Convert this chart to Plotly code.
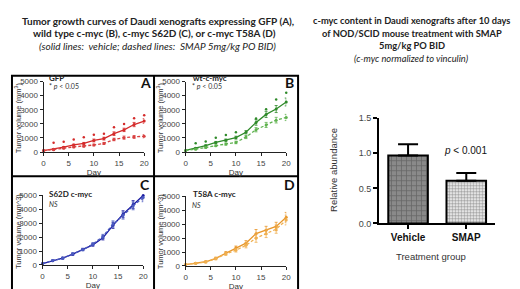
import plotly.graph_objects as go

W, H = 520, 289

days = [0, 2, 4, 6, 8, 10, 12, 14, 16, 18, 20]

gfp_veh = [100, 200, 340, 500, 610, 820, 950, 1300, 1570, 1950, 2200]
gfp_veh_err = [20, 40, 50, 60, 70, 100, 100, 130, 120, 150, 160]
gfp_smap = [100, 160, 270, 360, 410, 500, 610, 890, 1020, 1070, 1120]
gfp_smap_err = [20, 30, 40, 50, 50, 60, 70, 90, 110, 100, 110]
gfp_sig_days = [2, 4, 6, 8, 10, 12, 14, 16, 18, 20]
gfp_sig = [660, 730, 890, 1050, 1230, 1300, 1750, 1980, 2400, 2600]

wt_veh = [110, 270, 450, 680, 840, 1020, 1400, 2100, 2670, 3050, 3550]
wt_veh_err = [20, 40, 60, 70, 80, 100, 120, 200, 220, 250, 280]
wt_smap = [110, 200, 320, 450, 565, 680, 1060, 1580, 1920, 2260, 2450]
wt_smap_err = [20, 40, 50, 60, 80, 90, 110, 150, 180, 200, 220]
wt_sig_days = [2, 4, 6, 8, 10, 14, 16, 18, 20]
wt_sig = [630, 750, 1020, 1200, 1400, 2380, 3030, 3720, 4200]

s62d_veh = [100, 300, 500, 780, 1120, 1450, 1950, 2850, 3650, 4350, 5000]
s62d_veh_err = [20, 40, 60, 70, 80, 100, 150, 220, 250, 280, 320]
s62d_smap = [100, 320, 480, 800, 1100, 1500, 2050, 2950, 3550, 4250, 4850]
s62d_smap_err = [20, 40, 60, 70, 80, 100, 150, 220, 250, 280, 300]

t58a_veh = [100, 200, 300, 550, 930, 1300, 1640, 2320, 2570, 2840, 3500]
t58a_veh_err = [20, 40, 60, 80, 100, 130, 180, 300, 280, 300, 350]
t58a_smap = [100, 190, 280, 520, 860, 1130, 1480, 2000, 2320, 2650, 3300]
t58a_smap_err = [20, 40, 60, 80, 100, 130, 180, 300, 280, 300, 350]

bar_groups = ["Vehicle", "SMAP"]
bar_values = [0.97, 0.61]
bar_err = [0.16, 0.11]

growth_ticks = [0, 1000, 2000, 3000, 4000, 5000]
x_ticks = [0, 5, 10, 15, 20]
bar_ticks = [0.0, 0.5, 1.0, 1.5]

TITLE_FONT = "Lato"
TICK_FONT = "Liberation Sans"

def px_x(p):
    return p / W

def px_y(p):
    return 1 - p / H

fig = go.Figure()

panels = [
    dict(ax="", veh=gfp_veh, ve=gfp_veh_err, sm=gfp_smap, se=gfp_smap_err,
         sd=gfp_sig_days, sv=gfp_sig, col="#d42a2a", col2="#d84040"),
    dict(ax="2", veh=wt_veh, ve=wt_veh_err, sm=wt_smap, se=wt_smap_err,
         sd=wt_sig_days, sv=wt_sig, col="#2f8a2a", col2="#5fb24f"),
    dict(ax="3", veh=s62d_veh, ve=s62d_veh_err, sm=s62d_smap, se=s62d_smap_err,
         sd=None, sv=None, col="#1a1aa0", col2="#4a5ac0"),
    dict(ax="4", veh=t58a_veh, ve=t58a_veh_err, sm=t58a_smap, se=t58a_smap_err,
         sd=None, sv=None, col="#e8962a", col2="#f0b050"),
]

for p in panels:
    xa = "x" + p["ax"]
    ya = "y" + p["ax"]
    fig.add_trace(go.Scatter(
        x=days, y=p["veh"], xaxis=xa, yaxis=ya, mode="lines+markers",
        line=dict(color=p["col"], width=1.3),
        marker=dict(size=3, color=p["col"]),
        error_y=dict(type="data", array=p["ve"], color=p["col"], thickness=0.8, width=1.5),
        cliponaxis=False, showlegend=False))
    fig.add_trace(go.Scatter(
        x=days, y=p["sm"], xaxis=xa, yaxis=ya, mode="lines+markers",
        line=dict(color=p["col2"], width=1.3, dash="3px,2px"),
        marker=dict(size=3, color=p["col2"]),
        error_y=dict(type="data", array=p["se"], color=p["col2"], thickness=0.8, width=1.5),
        cliponaxis=False, showlegend=False))
    if p["sd"] is not None:
        fig.add_trace(go.Scatter(
            x=p["sd"], y=p["sv"], xaxis=xa, yaxis=ya, mode="markers",
            marker=dict(size=2.5, color=p["col"], symbol="circle"),
            cliponaxis=False, showlegend=False))

# bar panel
fig.add_trace(go.Bar(
    x=bar_groups, y=bar_values, xaxis="x5", yaxis="y5", width=0.68,
    marker=dict(
        color=["#8a8a8a", "#ffffff"],
        line=dict(color="black", width=2),
        pattern=dict(shape=["+", "."], fgcolor=["#d8d8d8", "#111111"],
                     bgcolor=["#6e6e6e", "#ffffff"], size=[5, 3], solidity=[0.3, 0.6]),
    ),
    error_y=dict(type="data", symmetric=False, array=bar_err, arrayminus=[0, 0],
                 color="black", thickness=2, width=10),
    showlegend=False))

axis_common = dict(showgrid=False, zeroline=False, showline=True, linecolor="#222",
                   linewidth=1, ticks="outside", ticklen=3, tickwidth=1, tickcolor="#222",
                   tickfont=dict(family=TICK_FONT, size=8, color="#444"))

layout_axes = {}
doms = {
    "": ((34, 136), (144, 71)),
    "2": ((178, 280), (144, 71)),
    "3": ((33, 135), (261, 189)),
    "4": ((178, 280), (262, 190)),
}
for k, ((x0, x1), (y0, y1)) in doms.items():
    layout_axes["xaxis" + k] = dict(axis_common, domain=[px_x(x0), px_x(x1)], range=[0, 20],
                                    tickvals=x_ticks, anchor="y" + k,
                                    title=dict(text="Day", standoff=1,
                                               font=dict(family=TICK_FONT, size=8, color="#333")))
    layout_axes["yaxis" + k] = dict(axis_common, domain=[px_y(y0), px_y(y1)], range=[0, 5000],
                                    tickvals=growth_ticks, anchor="x" + k)

layout_axes["xaxis5"] = dict(showgrid=False, zeroline=False, showline=True, linecolor="black",
                             linewidth=2, ticks="outside", ticklen=4, tickwidth=2, tickcolor="black",
                             domain=[px_x(374), px_x(492)], range=[-0.5, 1.5], anchor="y5",
                             tickvals=bar_groups, ticktext=["<b>" + g + "</b>" for g in bar_groups],
                             tickfont=dict(family=TICK_FONT, size=10, color="#111"))
layout_axes["yaxis5"] = dict(showgrid=False, zeroline=False, showline=True, linecolor="black",
                             linewidth=2, ticks="outside", ticklen=4, tickwidth=2, tickcolor="black",
                             domain=[px_y(218), px_y(109)], range=[0, 1.5], anchor="x5",
                             tickvals=bar_ticks, tickformat=".1f",
                             tickfont=dict(family=TICK_FONT, size=9, color="#444"))

ann = []

def text(x, y, s, size, family=TITLE_FONT, color="#222", xanchor="center", angle=0):
    ann.append(dict(x=px_x(x), y=px_y(y), xref="paper", yref="paper", text=s, showarrow=False,
                    font=dict(family=family, size=size, color=color), xanchor=xanchor,
                    yanchor="middle", textangle=angle))

# titles
text(150, 8, "<b>Tumor growth curves of Daudi xenografts expressing GFP (A),</b>", 10)
text(146, 21, "<b>wild type c-myc (B), c-myc S62D (C), or c-myc T58A (D)</b>", 10)
text(150, 34, "<i>(solid lines:  vehicle; dashed lines:  SMAP 5mg/kg PO BID)</i>", 10)
text(407, 8, "<b>c-myc content in Daudi xenografts after 10 days</b>", 9.3)
text(407, 21, "<b>of NOD/SCID mouse treatment with SMAP</b>", 9.3)
text(407, 34, "<b>5mg/kg PO BID</b>", 9.3)
text(407, 47, "<i>(c-myc normalized to vinculin)</i>", 9.3)

# panel letters
text(137, 72, "<b>A</b>", 14, color="#111")
text(283, 72, "<b>B</b>", 14, color="#111")
text(137, 178, "<b>C</b>", 14, color="#111")
text(283, 178, "<b>D</b>", 14, color="#111")

# panel labels
text(38, 67, "<b>GFP</b>", 8, xanchor="left")
text(37, 76, "* <i>p</i> &lt; 0.05", 7, xanchor="left", color="#333")
text(183, 67, "<b>wt-c-myc</b>", 8, xanchor="left")
text(182, 76, "* <i>p</i> &lt; 0.05", 7, xanchor="left", color="#333")
text(38, 187, "<b>S62D c-myc</b>", 8, xanchor="left")
text(37, 198, "<i>NS</i>", 7, xanchor="left", color="#333")
text(183, 188, "<b>T58A c-myc</b>", 8, xanchor="left")
text(182, 199, "<i>NS</i>", 7, xanchor="left", color="#333")

# y axis titles
for xc, yc, t in [(8, 108, "Tumor volume (mm<sup>3</sup>)"), (152, 108, "Tumor volume (mm<sup>3</sup>)"),
                  (8, 226, "Tumor volume (mm^3)"), (152, 226, "Tumor volume (mm^3)")]:
    text(xc, yc, t, 7.5, family=TICK_FONT, color="#333", angle=-90)

text(328, 163, "Relative abundance", 9.5, family=TICK_FONT, color="#333", angle=-90)
text(427, 252, "Treatment group", 9.5, family=TICK_FONT, color="#333")
text(462, 142, "<i>p</i> &lt; 0.001", 10, family=TICK_FONT, color="#111")

shapes = [
    dict(type="rect", xref="paper", yref="paper", x0=px_x(2), x1=px_x(292), y0=px_y(287), y1=px_y(65),
         line=dict(color="black", width=2)),
    dict(type="line", xref="paper", yref="paper", x0=px_x(146), x1=px_x(146), y0=px_y(287), y1=px_y(65),
         line=dict(color="black", width=2)),
    dict(type="line", xref="paper", yref="paper", x0=px_x(2), x1=px_x(292), y0=px_y(169), y1=px_y(169),
         line=dict(color="black", width=2)),
]

fig.update_layout(width=W, height=H, margin=dict(l=0, r=0, t=0, b=0),
                  paper_bgcolor="white", plot_bgcolor="white",
                  annotations=ann, shapes=shapes, **layout_axes)

fig.write_html("out.html")
